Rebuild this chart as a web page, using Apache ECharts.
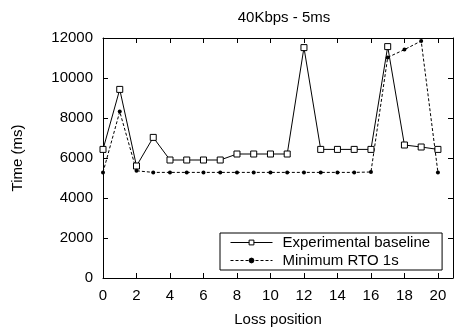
<!DOCTYPE html>
<html>
<head>
<meta charset="utf-8">
<script src="https://cdn.jsdelivr.net/npm/echarts@6/dist/echarts.min.js"></script>
<style>
html, body { margin: 0; padding: 0; background: #fff; }
#chart { width: 456px; height: 333px; }
</style>
</head>
<body>
<div id="chart"></div>
<script>
// loss positions and measured times (ms)
var positions = [0, 1, 2, 3, 4, 5, 6, 7, 8, 9, 10, 11, 12, 13, 14, 15, 16, 17, 18, 19, 20];
var baseline = [6430, 9430, 5600, 7030, 5900, 5900, 5900, 5900, 6200, 6200, 6200, 6200, 11520, 6430, 6430, 6430, 6430, 11570, 6650, 6550, 6430];
var minRto = [5280, 8320, 5360, 5280, 5280, 5280, 5280, 5280, 5280, 5280, 5280, 5280, 5280, 5280, 5280, 5280, 5300, 11030, 11420, 11850, 5280];
var seriesNames = ['Experimental baseline', 'Minimum RTO 1s'];

function pairs(ys) {
    var d = [];
    for (var i = 0; i < positions.length; i++) {
        d.push([positions[i], ys[i]]);
    }
    return d;
}

var font = 'Liberation Sans, Arial, sans-serif';

function xAxis(pos, labels) {
    return {
        type: 'value',
        position: pos,
        min: 0,
        max: 20.9,
        interval: 2,
        axisLine: {show: true, onZero: false, lineStyle: {color: '#000', width: 1}},
        axisTick: {show: true, inside: true, length: 5, lineStyle: {color: '#000'}},
        axisLabel: {show: labels, showMaxLabel: false, color: '#000', fontSize: 15, fontFamily: font, margin: 10},
        splitLine: {show: false}
    };
}

function yAxis(pos, labels) {
    return {
        type: 'value',
        position: pos,
        min: 0,
        max: 12000,
        interval: 2000,
        axisLine: {show: true, onZero: false, lineStyle: {color: '#000', width: 1}},
        axisTick: {show: true, inside: true, length: 5, lineStyle: {color: '#000'}},
        axisLabel: {
            show: labels, color: '#000', fontSize: 15, fontFamily: font, margin: 10,
            formatter: function (v) { return String(v); }
        },
        splitLine: {show: false}
    };
}

var xs = [xAxis('bottom', true), xAxis('top', false)];
xs[0].name = 'Loss position';
xs[0].nameLocation = 'middle';
xs[0].nameGap = 34;
xs[0].nameTextStyle = {color: '#000', fontSize: 15, fontFamily: font};

var ys = [yAxis('left', true), yAxis('right', false)];
ys[0].name = 'Time (ms)';
ys[0].nameLocation = 'middle';
ys[0].nameGap = 78;
ys[0].nameRotate = 90;
ys[0].nameTextStyle = {color: '#000', fontSize: 15, fontFamily: font};

var option = {
    backgroundColor: '#fff',
    animation: false,
    title: {
        text: '40Kbps - 5ms',
        left: 279,
        top: 5,
        textAlign: 'center',
        textStyle: {color: '#000', fontSize: 15, fontWeight: 'normal', fontFamily: font}
    },
    grid: {left: 103, top: 38, right: 3, bottom: 55},
    legend: {
        orient: 'vertical',
        left: 220,
        top: 233,
        itemWidth: 42,
        itemHeight: 6,
        itemGap: 3,
        padding: [2, 12, 2, 10],
        borderColor: '#000',
        borderWidth: 1,
        backgroundColor: '#fff',
        itemStyle: {borderWidth: 1},
        lineStyle: {width: 1},
        textStyle: {color: '#000', fontSize: 15, fontFamily: font, padding: [0, 0, 0, 5]},
        data: seriesNames
    },
    xAxis: xs,
    yAxis: ys,
    series: [{
        name: seriesNames[0],
        type: 'line',
        data: pairs(baseline),
        symbol: 'rect',
        symbolSize: 6,
        showAllSymbol: true,
        lineStyle: {color: '#000', width: 1},
        itemStyle: {color: '#fff', borderColor: '#000', borderWidth: 1}
    }, {
        name: seriesNames[1],
        type: 'line',
        data: pairs(minRto),
        symbol: 'circle',
        symbolSize: 4,
        showAllSymbol: true,
        lineStyle: {color: '#000', width: 1, type: [3, 2]},
        itemStyle: {color: '#000', borderColor: '#000', borderWidth: 0}
    }]
};

var myChart = echarts.init(document.getElementById('chart'));
myChart.setOption(option);
</script>
</body>
</html>
